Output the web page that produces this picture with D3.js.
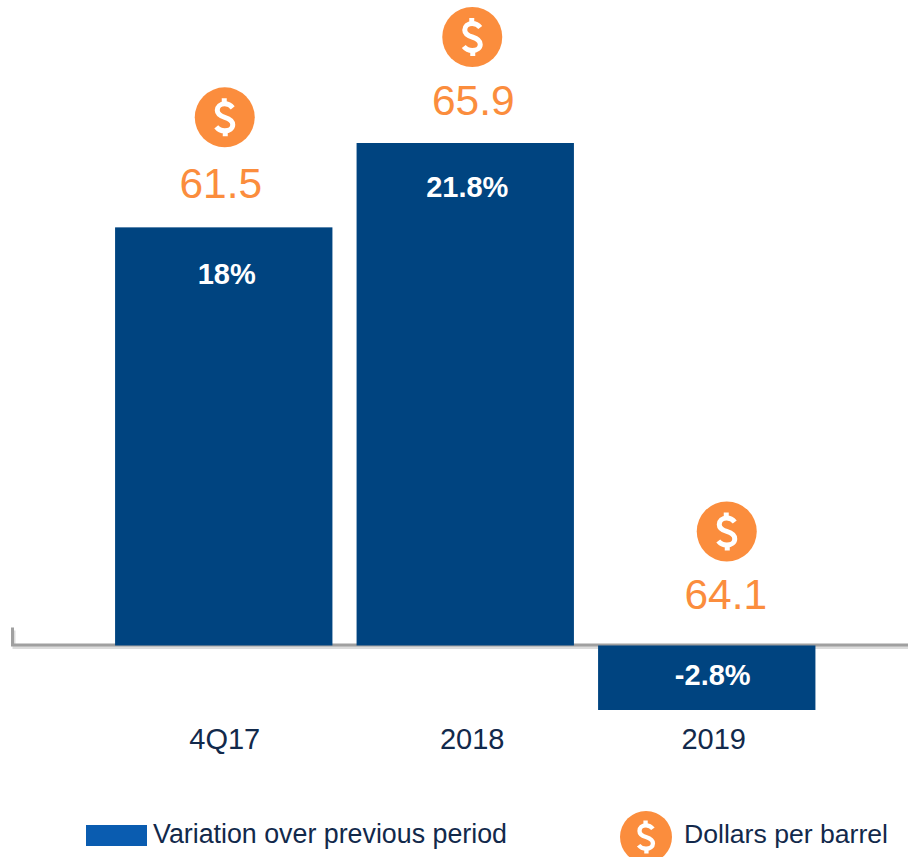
<!DOCTYPE html>
<html>
<head>
<meta charset="utf-8">
<script src="https://cdn.jsdelivr.net/npm/d3@7"></script>
<style>
  html, body { margin: 0; padding: 0; background: #fff; overflow: hidden; }
  text { font-family: "Liberation Sans", Arial, sans-serif; }
</style>
</head>
<body>
<div id="chart"></div>
<script>
const WIDTH = 908;
const HEIGHT = 857;

const PERIODS = ["4Q17", "2018", "2019"];
// the 18% bar is drawn a touch taller than 18 in the picture, the label is rounded
const VARIATION = [18.14, 21.8, -2.8];
const VARIATION_LABELS = ["18%", "21.8%", "-2.8%"];
const PRICES = [61.5, 65.9, 64.1];

const BAR_COLOR = "#004480";
const ORANGE = "#fb8d3d";
const NAVY = "#12294b";

// nudges, the labels are not quite centred on the bars
const TICK_NUDGE = [1, 7, 7];
const PCT_NUDGE = [3, 2, 6];
const PRICE_NUDGE = [-3, 8, 19];
const ICON_NUDGE = [1, 7, 20];

const x = d3.scaleBand().domain(PERIODS).range([103, 827.5]).paddingInner(0.1).paddingOuter(0.05);
const y = d3.scaleLinear().domain([-2.8, 21.8]).range([710, 143]);
const zero = y(0);

const svg = d3.select("#chart").append("svg")
  .attr("width", WIDTH)
  .attr("height", HEIGHT)
  .style("display", "block");

// axis with its faint shadow underneath
svg.append("path")
  .attr("d", `M13,${zero - 16}V${zero + 1}H${WIDTH}`)
  .attr("fill", "none")
  .attr("stroke", "#dcdcdc")
  .attr("stroke-width", 3)
  .attr("transform", "translate(1,1)");
svg.append("path")
  .attr("d", `M12.5,${zero - 18}V${zero - 0.5}H${WIDTH}`)
  .attr("fill", "none")
  .attr("stroke", "#a0a0a0")
  .attr("stroke-width", 3);

svg.selectAll("rect.bar")
  .data(VARIATION)
  .join("rect")
  .attr("class", "bar")
  .attr("x", (d, i) => x(PERIODS[i]))
  .attr("y", (d) => y(Math.max(d, 0)))
  .attr("width", x.bandwidth())
  .attr("height", (d) => Math.abs(y(d) - zero))
  .attr("fill", BAR_COLOR);

const center = (i) => x(PERIODS[i]) + x.bandwidth() / 2;
const barTop = (i) => y(Math.max(VARIATION[i], 0));

function dollarIcon(sel, cx, cy, r) {
  const g = sel.append("g").attr("transform", `translate(${cx},${cy}) scale(${r / 30})`);
  g.append("circle").attr("r", 30).attr("fill", ORANGE);
  g.append("path")
    .attr("d", "M8,-9.5C6,-12 3,-13.5 0,-13.5C-4.5,-13.5 -7.5,-10.5 -7.5,-7C-7.5,-3 -4,-1.2 0,0C4,1.2 8,3 8,7.5C8,11 4.5,13.5 0,13.5C-3.5,13.5 -6.5,12 -8.5,9.5")
    .attr("fill", "none")
    .attr("stroke", "#fff")
    .attr("stroke-width", 5);
  g.append("path")
    .attr("d", "M-0.5,-19V-13M0.5,13V19")
    .attr("fill", "none")
    .attr("stroke", "#fff")
    .attr("stroke-width", 5);
}

PERIODS.forEach((p, i) => {
  dollarIcon(svg, center(i) + ICON_NUDGE[i], barTop(i) - [110, 106, 114][i], 30);

  svg.append("text")
    .attr("x", center(i) + PRICE_NUDGE[i])
    .attr("y", barTop(i) - [29, 28, 36][i])
    .attr("text-anchor", "middle")
    .attr("font-size", 42.5)
    .attr("fill", ORANGE)
    .text(d3.format(".1f")(PRICES[i]));

  svg.append("text")
    .attr("x", center(i) + PCT_NUDGE[i])
    .attr("y", VARIATION[i] > 0 ? barTop(i) + [56.5, 54][i] : zero + 39.5)
    .attr("text-anchor", "middle")
    .attr("font-size", 29)
    .attr("font-weight", 700)
    .attr("fill", "#fff")
    .text(VARIATION_LABELS[i]);

  svg.append("text")
    .attr("x", center(i) + TICK_NUDGE[i])
    .attr("y", 749)
    .attr("text-anchor", "middle")
    .attr("font-size", 29)
    .attr("fill", NAVY)
    .text(p);
});

// legend
svg.append("rect")
  .attr("x", 86)
  .attr("y", 825)
  .attr("width", 61)
  .attr("height", 21)
  .attr("fill", "#0a5cb0");
svg.append("text")
  .attr("x", 153)
  .attr("y", 843)
  .attr("font-size", 26.8)
  .attr("fill", NAVY)
  .text("Variation over previous period");
dollarIcon(svg, 646, 837, 26);
svg.append("text")
  .attr("x", 684)
  .attr("y", 843)
  .attr("font-size", 26.6)
  .attr("fill", NAVY)
  .text("Dollars per barrel");
</script>
</body>
</html>
